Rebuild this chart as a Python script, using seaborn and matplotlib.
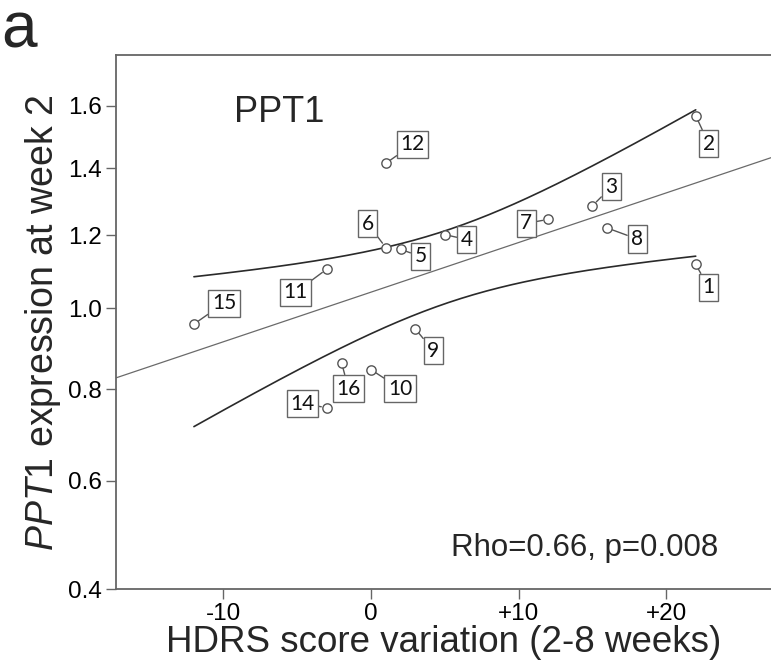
import numpy as np
import pandas as pd
import matplotlib
matplotlib.use("Agg")
import matplotlib.pyplot as plt
import seaborn as sns

# ---- data ----
patient_ids = [1, 2, 3, 4, 5, 6, 7, 8, 9, 10, 11, 12, 14, 15, 16]
hdrs_variation = [22, 22, 15, 5, 2, 1, 12, 16, 3, 0, -3, 1, -3, -12, -2]
ppt1_expression = [1.118, 1.567, 1.286, 1.202, 1.160, 1.165, 1.246, 1.221,
                   0.947, 0.846, 1.105, 1.415, 0.757, 0.959, 0.863]
x_ticks = [-10, 0, 10, 20]
x_tick_labels = ["-10", "0", "+10", "+20"]
y_ticks = [0.4, 0.6, 0.8, 1.0, 1.2, 1.4, 1.6]
y_tick_labels = ["0.4", "0.6", "0.8", "1.0", "1.2", "1.4", "1.6"]
gene_title = "PPT1"
stats_text = "Rho=0.66, p=0.008"

# label offsets in pixels (dx right, dy down) -- layout only
label_offsets = {1: (13, 23), 2: (13, 28), 3: (19, -19), 4: (22, 5), 5: (20, 7),
                 6: (-18, -24), 7: (-22, 4), 8: (30, 11), 9: (18, 22), 10: (29, 19),
                 11: (-31, 23), 12: (27, -19), 14: (-24, -4), 15: (30, -21), 16: (7, 26)}

df = pd.DataFrame({"id": patient_ids, "hdrs": hdrs_variation, "ppt1": ppt1_expression})

sns.set_style("ticks")
plt.rcParams["font.family"] = ["Liberation Sans", "DejaVu Sans"]
plt.rcParams["mathtext.fontset"] = "custom"
plt.rcParams["mathtext.rm"] = "Liberation Sans"
plt.rcParams["mathtext.it"] = "Liberation Sans:italic"

fig = plt.figure(figsize=(7.71, 6.61), dpi=100)
ax = fig.add_axes([116 / 771, (661 - 589.4) / 661, 1 - 116 / 771, (589.4 - 55) / 661])
ax.set_yscale("function", functions=(lambda v: np.sqrt(np.clip(v, 0, None)), np.square))

xlim = (-17.28, 27.1)
ax.set_xlim(*xlim)
ax.set_ylim(0.4, 1.772)

# regression in sqrt space
x = df["hdrs"].to_numpy(float)
s = np.sqrt(df["ppt1"].to_numpy(float))
n = len(x)
b, a = np.polyfit(x, s, 1)
resid = s - (a + b * x)
sigma = np.sqrt(np.sum(resid ** 2) / (n - 2))
tcrit = 2.1604  # t(0.975, 13)
xm = x.mean()
sxx = np.sum((x - xm) ** 2)

xx_full = np.linspace(*xlim, 200)
ax.plot(xx_full, (a + b * xx_full) ** 2, color="#6a6a6a", lw=0.9, zorder=2)

xx = np.linspace(x.min(), x.max(), 200)
half = tcrit * sigma * np.sqrt(1 / n + (xx - xm) ** 2 / sxx)
ax.plot(xx, (a + b * xx + half) ** 2, color="#2a2a2a", lw=1.2, zorder=2)
ax.plot(xx, (a + b * xx - half) ** 2, color="#2a2a2a", lw=1.2, zorder=2)

sns.scatterplot(data=df, x="hdrs", y="ppt1", ax=ax, s=45, marker="o",
                facecolor="white", edgecolor="#555555", linewidth=1.0, zorder=4)

for pid, xv, yv in zip(patient_ids, hdrs_variation, ppt1_expression):
    dx, dy = label_offsets[pid]
    ax.annotate(str(pid), xy=(xv, yv), xytext=(dx, -dy), textcoords="offset pixels",
                ha="center", va="center", fontsize=15, family="Lato", color="#111111",
                bbox=dict(boxstyle="square,pad=0.17", fc="white", ec="#666666", lw=1.0),
                arrowprops=dict(arrowstyle="-", color="#555555", lw=1.0,
                                shrinkA=0, shrinkB=4), zorder=5)

ax.set_xticks(x_ticks)
ax.set_xticklabels(x_tick_labels)
ax.set_yticks(y_ticks)
ax.set_yticklabels(y_tick_labels)
ax.minorticks_off()
ax.tick_params(axis="both", labelsize=17.5, length=7, width=1.0, color="#666666",
               direction="out", labelcolor="black", pad=3)

for side in ["left", "bottom", "top"]:
    ax.spines[side].set_color("#666666")
    ax.spines[side].set_linewidth(1.3)
ax.spines["right"].set_visible(False)

ax.set_xlabel("HDRS score variation (2-8 weeks)", fontsize=26.5, labelpad=0)
ax.set_ylabel(r"$\it{PPT1}$ expression at week 2", fontsize=27, labelpad=4)

ax.text(0.18, 0.8746, gene_title, transform=ax.transAxes, fontsize=26,
        ha="left", va="baseline")
ax.text(0.919, 0.0625, stats_text, transform=ax.transAxes, fontsize=22.5,
        ha="right", va="baseline")

fig.text(1 / 771, 1 - 47 / 661, "a", fontsize=46, ha="left", va="baseline")

fig.savefig("out.png", dpi=100)
